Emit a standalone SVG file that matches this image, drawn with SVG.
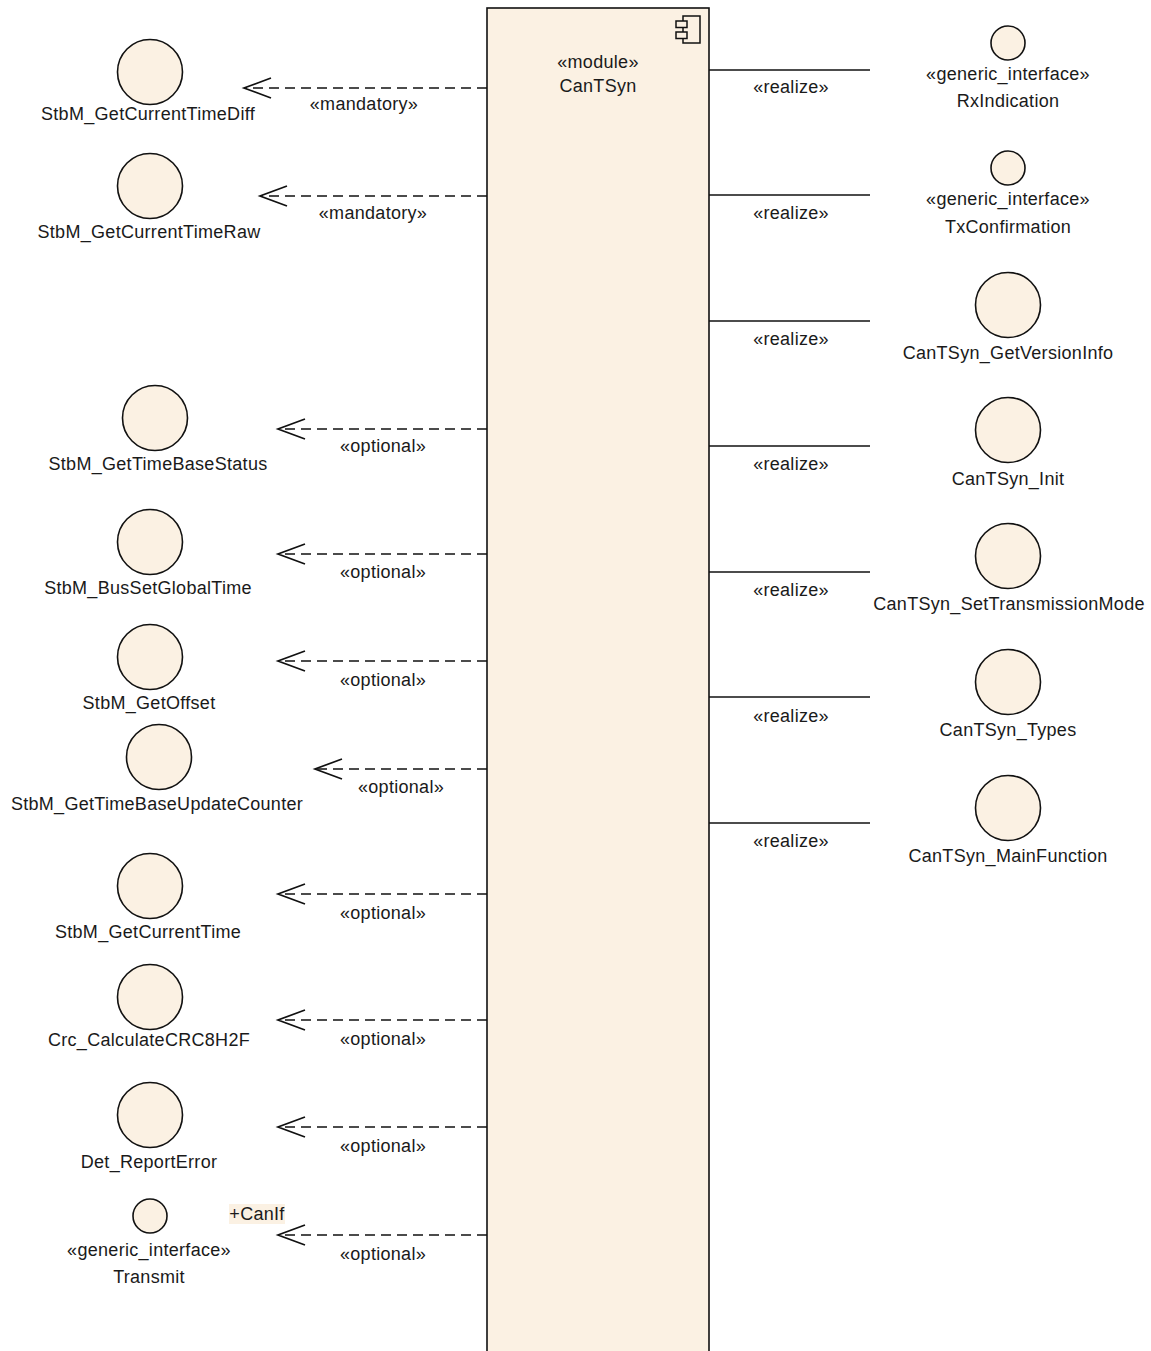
<svg xmlns="http://www.w3.org/2000/svg" width="1151" height="1351" viewBox="0 0 1151 1351">
<defs>
<style>
text{font-family:"Liberation Sans",Arial,sans-serif;font-size:18px;letter-spacing:0.3px;fill:#1a1a1a;text-anchor:middle}
.iface{fill:#FBF1E3;stroke:#111;stroke-width:1.6}
.dep{stroke:#111;stroke-width:1.6;stroke-dasharray:10 6;fill:none}
.arr{stroke:#111;stroke-width:1.7;fill:none}
.real{stroke:#111;stroke-width:1.6;fill:none}
</style>
</defs>
<rect width="1151" height="1351" fill="#fff"/>
<g id="CanTSyn">
<rect x="487" y="8" width="222" height="1360" fill="#FBF1E3" stroke="#111" stroke-width="1.6"/>
<rect x="683" y="16" width="17" height="27" fill="none" stroke="#111" stroke-width="1.5"/>
<rect x="676" y="21" width="11" height="6.5" fill="#FBF1E3" stroke="#111" stroke-width="1.5"/>
<rect x="676" y="32" width="11" height="6.5" fill="#FBF1E3" stroke="#111" stroke-width="1.5"/>
<text x="598" y="68">«module»</text>
<text x="598" y="92">CanTSyn</text>
</g>
<g id="connectors">
<path class="dep" d="M487 88H245"/><path class="arr" d="M271 78L244 88L271 98"/>
<path class="dep" d="M487 196H261"/><path class="arr" d="M287 186L260 196L287 206"/>
<path class="dep" d="M487 429H279"/><path class="arr" d="M305 419L278 429L305 439"/>
<path class="dep" d="M487 554H279"/><path class="arr" d="M305 544L278 554L305 564"/>
<path class="dep" d="M487 661H279"/><path class="arr" d="M305 651L278 661L305 671"/>
<path class="dep" d="M487 769H316"/><path class="arr" d="M342 759L315 769L342 779"/>
<path class="dep" d="M487 894H279"/><path class="arr" d="M305 884L278 894L305 904"/>
<path class="dep" d="M487 1020H279"/><path class="arr" d="M305 1010L278 1020L305 1030"/>
<path class="dep" d="M487 1127H279"/><path class="arr" d="M305 1117L278 1127L305 1137"/>
<path class="dep" d="M487 1235H279"/><path class="arr" d="M305 1225L278 1235L305 1245"/>
<text x="364" y="110">«mandatory»</text>
<text x="373" y="219">«mandatory»</text>
<text x="383" y="452">«optional»</text>
<text x="383" y="578">«optional»</text>
<text x="383" y="686">«optional»</text>
<text x="401" y="793">«optional»</text>
<text x="383" y="919">«optional»</text>
<text x="383" y="1045">«optional»</text>
<text x="383" y="1152">«optional»</text>
<text x="383" y="1260">«optional»</text>
<rect x="229" y="1204" width="56" height="20" fill="#FBF1E3"/>
<text x="257" y="1220">+CanIf</text>
<path class="real" d="M709 70H870"/>
<path class="real" d="M709 195H870"/>
<path class="real" d="M709 321H870"/>
<path class="real" d="M709 446H870"/>
<path class="real" d="M709 572H870"/>
<path class="real" d="M709 697H870"/>
<path class="real" d="M709 823H870"/>
<text x="791" y="93">«realize»</text>
<text x="791" y="219">«realize»</text>
<text x="791" y="345">«realize»</text>
<text x="791" y="470">«realize»</text>
<text x="791" y="596">«realize»</text>
<text x="791" y="722">«realize»</text>
<text x="791" y="847">«realize»</text>
</g>
<g id="StbM_GetCurrentTimeDiff"><circle class="iface" cx="150" cy="72" r="32.5"/><text x="148" y="120">StbM_GetCurrentTimeDiff</text></g>
<g id="StbM_GetCurrentTimeRaw"><circle class="iface" cx="150" cy="186" r="32.5"/><text x="149" y="238">StbM_GetCurrentTimeRaw</text></g>
<g id="StbM_GetTimeBaseStatus"><circle class="iface" cx="155" cy="418" r="32.5"/><text x="158" y="470">StbM_GetTimeBaseStatus</text></g>
<g id="StbM_BusSetGlobalTime"><circle class="iface" cx="150" cy="542" r="32.5"/><text x="148" y="594">StbM_BusSetGlobalTime</text></g>
<g id="StbM_GetOffset"><circle class="iface" cx="150" cy="657" r="32.5"/><text x="149" y="709">StbM_GetOffset</text></g>
<g id="StbM_GetTimeBaseUpdateCounter"><circle class="iface" cx="159" cy="757" r="32.5"/><text x="157" y="810">StbM_GetTimeBaseUpdateCounter</text></g>
<g id="StbM_GetCurrentTime"><circle class="iface" cx="150" cy="886" r="32.5"/><text x="148" y="938">StbM_GetCurrentTime</text></g>
<g id="Crc_CalculateCRC8H2F"><circle class="iface" cx="150" cy="997" r="32.5"/><text x="149" y="1046">Crc_CalculateCRC8H2F</text></g>
<g id="Det_ReportError"><circle class="iface" cx="150" cy="1115" r="32.5"/><text x="149" y="1168">Det_ReportError</text></g>
<g id="Transmit"><circle class="iface" cx="150" cy="1216" r="17"/><text x="149" y="1256">«generic_interface»</text><text x="149" y="1283">Transmit</text></g>
<g id="RxIndication"><circle class="iface" cx="1008" cy="43" r="17"/><text x="1008" y="80">«generic_interface»</text><text x="1008" y="107">RxIndication</text></g>
<g id="TxConfirmation"><circle class="iface" cx="1008" cy="168" r="17"/><text x="1008" y="205">«generic_interface»</text><text x="1008" y="233">TxConfirmation</text></g>
<g id="CanTSyn_GetVersionInfo"><circle class="iface" cx="1008" cy="305" r="32.5"/><text x="1008" y="359">CanTSyn_GetVersionInfo</text></g>
<g id="CanTSyn_Init"><circle class="iface" cx="1008" cy="430" r="32.5"/><text x="1008" y="485">CanTSyn_Init</text></g>
<g id="CanTSyn_SetTransmissionMode"><circle class="iface" cx="1008" cy="556" r="32.5"/><text x="1009" y="610">CanTSyn_SetTransmissionMode</text></g>
<g id="CanTSyn_Types"><circle class="iface" cx="1008" cy="682" r="32.5"/><text x="1008" y="736">CanTSyn_Types</text></g>
<g id="CanTSyn_MainFunction"><circle class="iface" cx="1008" cy="808" r="32.5"/><text x="1008" y="862">CanTSyn_MainFunction</text></g>
</svg>
